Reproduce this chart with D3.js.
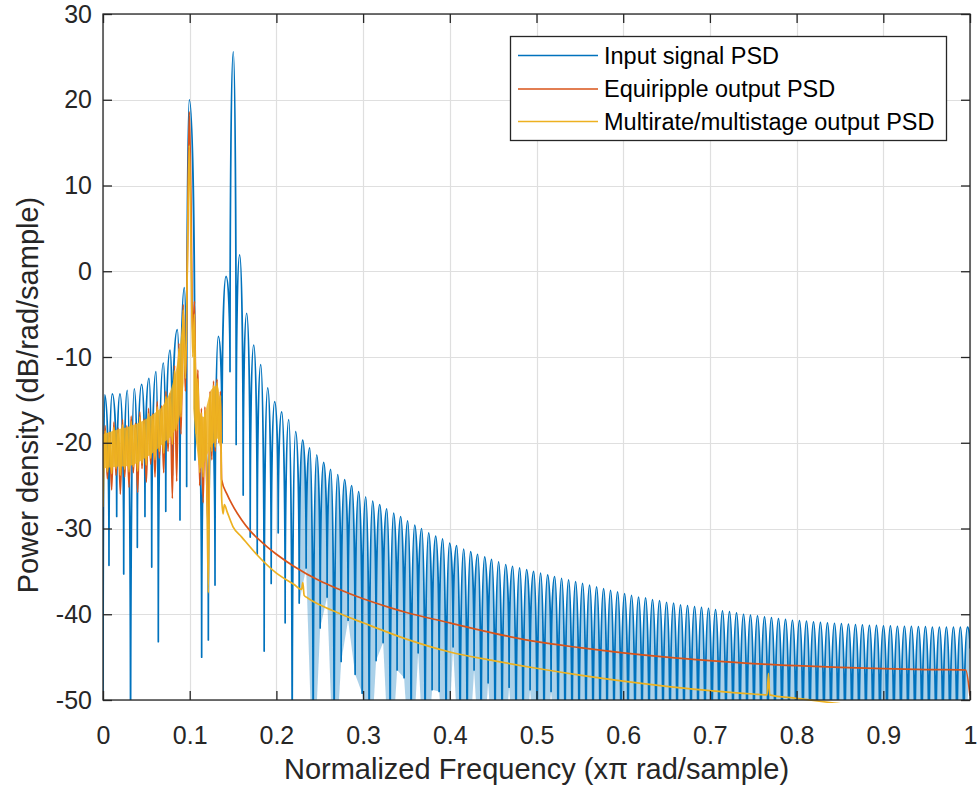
<!DOCTYPE html>
<html><head><meta charset="utf-8">
<script src="https://cdn.jsdelivr.net/npm/d3@7"></script>
<style>
html,body{margin:0;padding:0;background:#fff;}
svg{display:block;}
text{font-family:"Liberation Sans",Arial,Helvetica,sans-serif;}
</style></head>
<body>
<svg id="chart" width="978" height="790"></svg>
<script>
// ---------------- data ----------------
const xTicks = [0,0.1,0.2,0.3,0.4,0.5,0.6,0.7,0.8,0.9,1];
const xTickLabels = ["0","0.1","0.2","0.3","0.4","0.5","0.6","0.7","0.8","0.9","1"];
const yTicks = [-50,-40,-30,-20,-10,0,10,20,30];
const yTickLabels = ["-50","-40","-30","-20","-10","0","10","20","30"];
const seriesNames = ["Input signal PSD","Equiripple output PSD","Multirate/multistage output PSD"];
const seriesColors = ["#0072BD","#D95319","#EDB120"];

// Input PSD, low-frequency part [freq, dB]
const inputLow = [
 [0,-60],[0.002,-14.4],[0.0069,-34.3],[0.0107,-14.3],[0.0158,-28.6],[0.0196,-14.3],[0.0239,-35.3],
 [0.028,-13.9],[0.0318,-60],[0.0361,-13.7],[0.0396,-32.2],[0.0446,-13.2],[0.0484,-28.6],[0.053,-12.5],
 [0.0562,-34.5],[0.0611,-11.7],[0.0638,-43.2],[0.0696,-10.7],[0.0724,-28.0],[0.0773,-9.2],[0.080,-23.8],
 [0.0857,-6.8],[0.0888,-29.0],[0.0938,-1.9],[0.0965,-25.1],[0.0995,20.0],[0.1061,-22],[0.1096,-16],
 [0.1138,-45],[0.1176,-19],[0.1215,-43],[0.1254,-17],[0.1292,-36.6],[0.133,-7.6],[0.1373,-20],
 [0.1419,-0.6],[0.1465,-11.7],[0.1503,25.6],[0.1536,-20.2],[0.1576,1.9],[0.1617,-26.1],[0.1657,-4.9],
 [0.1698,-31],[0.1738,-8.6],[0.1779,-33],[0.1819,-10.9],[0.1859,-44.3],[0.19,-13.6],[0.194,-36.4],
 [0.198,-15.2],[0.2021,-30.5],[0.2061,-16.4],[0.2101,-41],[0.2142,-17.3],[0.2182,-60],[0.2222,-18.7],
 [0.2263,-38.7]
];
// Input PSD sidelobe peaks above 0.23
const inputPeakFreq = [0.2303,0.2384,0.2465,0.2545,0.2626,0.2707,0.2787,0.2868,0.2949,0.3030,
 0.3110,0.3191,0.3272,0.3352,0.3433,0.3514,0.3595,0.3675,0.3756,0.3837,0.3917,0.3998,0.4079,0.4160,
 0.4240,0.4321,0.4402,0.4482,0.4563,0.4644,0.4724,0.4805,0.4886,0.4967,0.5047,0.5128,0.5209,0.5289,
 0.5370,0.5451,0.5531,0.5612,0.5693,0.5774,0.5854,0.5935,0.6016,0.6096,0.6177,0.6258,0.6338,0.6419,
 0.6500,0.6581,0.6661,0.6742,0.6823,0.6903,0.6984,0.7065,0.7145,0.7226,0.7307,0.7388,0.7468,0.7549,
 0.7630,0.7710,0.7791,0.7872,0.7952,0.8033,0.8114,0.8195,0.8275,0.8356,0.8437,0.8517,0.8598,0.8679,
 0.8759,0.8840,0.8921,0.9002,0.9082,0.9163,0.9244,0.9324,0.9405,0.9486,0.9566,0.9647,0.9728,0.9809,
 0.9889,0.9970];
const inputPeakDb = [-19.7,-20.6,-21.4,-22.3,-23.1,-23.7,-24.3,-25.0,-25.7,-26.3,
 -26.8,-27.2,-27.7,-28.2,-28.6,-29.1,-29.6,-30.0,-30.5,-30.9,-31.2,-31.7,-32.0,-32.4,
 -32.7,-33.0,-33.3,-33.6,-33.9,-34.2,-34.4,-34.6,-34.8,-35.0,-35.2,-35.4,-35.6,-35.8,
 -36.0,-36.2,-36.4,-36.6,-36.8,-37.0,-37.2,-37.4,-37.6,-37.8,-38.0,-38.1,-38.3,-38.4,
 -38.6,-38.7,-38.9,-39.0,-39.1,-39.2,-39.3,-39.45,-39.6,-39.7,-39.85,-40.0,-40.1,-40.2,
 -40.3,-40.4,-40.5,-40.6,-40.7,-40.75,-40.8,-40.9,-40.95,-41.0,-41.05,-41.1,-41.15,-41.2,
 -41.25,-41.3,-41.3,-41.35,-41.35,-41.4,-41.4,-41.4,-41.45,-41.45,-41.5,-41.5,-41.5,-41.5,
 -41.5,-41.5];
// Input PSD nulls above 0.23
const inputNullFreq = [0.2343,0.2424,0.2505,0.2585,0.2666,0.2747,0.2827,0.2908,0.2989,0.3070,
 0.3150,0.3231,0.3312,0.3392,0.3473,0.3554,0.3635,0.3715,0.3796,0.3877,0.3957,0.4038,0.4119,0.4200,
 0.4280,0.4361,0.4442,0.4522,0.4603,0.4684,0.4764,0.4845,0.4926,0.5007,0.5087,0.5168,0.5249,0.5329,
 0.5410,0.5491,0.5571,0.5652,0.5733,0.5814,0.5894,0.5975,0.6056,0.6136,0.6217,0.6298,0.6378,0.6459,
 0.6540,0.6621,0.6701,0.6782,0.6863,0.6943,0.7024,0.7105,0.7185,0.7266,0.7347,0.7428,0.7508,0.7589,
 0.7670,0.7750,0.7831,0.7912,0.7992,0.8073,0.8154,0.8235,0.8315,0.8396,0.8477,0.8557,0.8638,0.8719,
 0.8799,0.8880,0.8961,0.9042,0.9122,0.9203,0.9284,0.9364,0.9445,0.9526,0.9606,0.9687,0.9768,0.9849,
 0.9929,1.0];
const inputNullDb = [-34.6,-60,-41.6,-38.0,-60,-45.5,-40.7,-47,-49.2,-60,
 -45.4,-43.3,-60,-46.5,-47.4,-60,-44.5,-60,-48.8,-49,-60,-43.8,-60,-60,
 -46.5,-60,-48,-60,-60,-48.5,-60,-60,-48.8,-60,-60,-49.0,-60,-60,
 -60,-60,-60,-60,-60,-60,-60,-60,-60,-60,-60,-60,-60,-60,
 -60,-60,-60,-60,-60,-60,-60,-60,-60,-60,-60,-60,-60,-60,
 -60,-60,-60,-60,-60,-60,-60,-60,-60,-60,-60,-60,-60,-60,
 -60,-60,-60,-60,-60,-60,-60,-60,-60,-60,-60,-60,-60,-60,
 -60,-44];

// Equiripple output PSD [freq, dB]
const equiripple = [
 [0,-25.0],[0.0025,-18.0],[0.005,-24.2],[0.0075,-18.8],[0.01,-25.5],[0.0125,-17.6],[0.015,-23.8],
 [0.0175,-18.3],[0.02,-26.0],[0.0225,-17.3],[0.025,-24.0],[0.0275,-18.0],[0.03,-25.2],[0.0325,-16.9],
 [0.035,-23.5],[0.0375,-17.7],[0.04,-25.8],[0.0425,-16.4],[0.045,-23.0],[0.0475,-17.2],[0.05,-24.6],
 [0.0525,-16.0],[0.055,-22.5],[0.0575,-16.6],[0.06,-24.0],[0.0625,-15.2],[0.065,-21.8],[0.0675,-15.7],
 [0.07,-23.5],[0.0725,-14.0],[0.075,-21.0],[0.0775,-14.2],[0.08,-26.5],[0.0825,-11.0],[0.085,-24.5],
 [0.0875,-8.4],[0.09,-19.0],[0.0925,-3.9],[0.095,-14.0],[0.0975,3.0],[0.0995,18.6],
 [0.1015,8.0],[0.1035,-8.0],[0.1055,-3.5],[0.1075,-18.0],[0.1095,-11.5],[0.1115,-25.0],[0.1135,-16.0],
 [0.1155,-27.0],[0.1175,-15.8],[0.1195,-24.0],[0.1215,-30.2],[0.1235,-14.0],[0.1255,-22.0],[0.1275,-12.8],
 [0.1295,-21.0],[0.1315,-12.6],[0.1335,-20.0],[0.1355,-14.0],[0.1368,-24.3],
 [0.143,-26.0],[0.150,-27.4],[0.160,-29.0],[0.170,-30.3],[0.180,-31.3],[0.190,-32.2],[0.200,-33.0],
 [0.220,-34.4],[0.250,-36.1],[0.270,-37.0],[0.300,-38.2],[0.330,-39.2],[0.350,-39.8],
 [0.400,-41.0],[0.450,-42.2],[0.500,-43.2],[0.550,-43.9],[0.600,-44.5],[0.650,-45.0],
 [0.700,-45.4],[0.750,-45.75],[0.800,-46.0],[0.850,-46.2],[0.900,-46.35],[0.950,-46.45],[0.995,-46.5],[1.0,-49.5]
];

// Multirate/multistage output PSD [freq, dB]
const multistage = [
 [0,-27.5],[0.0025,-18.6],[0.005,-23.4],[0.0075,-19.4],[0.01,-23.6],[0.0125,-18.2],[0.015,-23.0],
 [0.0175,-18.9],[0.02,-23.8],[0.0225,-17.9],[0.025,-23.1],[0.0275,-18.6],[0.03,-23.4],[0.0325,-17.5],
 [0.035,-22.8],[0.0375,-18.3],[0.04,-23.3],[0.0425,-17.0],[0.045,-22.4],[0.0475,-17.8],[0.05,-22.6],
 [0.0525,-16.6],[0.055,-21.8],[0.0575,-17.2],[0.06,-22.0],[0.0625,-15.8],[0.065,-21.0],[0.0675,-16.3],
 [0.07,-21.2],[0.0725,-14.6],[0.075,-20.0],[0.0775,-14.9],[0.08,-20.2],[0.0825,-11.6],[0.085,-18.6],
 [0.0875,-9.0],[0.09,-17.0],[0.0925,-4.5],[0.095,-12.5],[0.0975,2.0],[0.0995,14.7],
 [0.1015,3.0],[0.1035,-10.0],[0.1055,-5.0],[0.1075,-19.0],[0.1095,-12.5],[0.1115,-23.5],[0.1135,-16.5],
 [0.1155,-24.0],[0.1175,-16.2],[0.1195,-22.5],[0.1215,-37.5],[0.1235,-14.5],[0.1255,-21.0],[0.1275,-13.3],
 [0.1295,-20.5],[0.1315,-13.0],[0.1335,-19.8],[0.1355,-14.5],[0.1368,-26.3],[0.1385,-28.3],[0.140,-27.2],
 [0.143,-28.0],[0.150,-29.8],[0.160,-31.0],[0.177,-33.0],[0.200,-35.2],[0.220,-36.5],[0.229,-37.1],
 [0.2305,-36.3],[0.232,-37.8],[0.236,-38.1],[0.250,-38.9],[0.270,-39.8],[0.300,-41.0],[0.350,-42.9],
 [0.400,-44.4],[0.450,-45.4],[0.500,-46.3],[0.550,-47.1],[0.600,-47.8],[0.650,-48.4],[0.700,-48.9],
 [0.750,-49.3],[0.766,-49.4],[0.7675,-46.9],[0.769,-49.4],[0.800,-49.8],[0.843,-50.35],[0.900,-51.0],[1.0,-51.5]
];
// Extent of the dense multirate ripple band at low frequency (too fine to resolve as single strokes)
const multistageBandFreq = [0,0.015,0.03,0.045,0.06,0.07,0.08,0.086,0.09,0.093,
  0.104,0.108,0.112,0.116,0.12,0.124,0.128,0.132,0.135];
const multistageBandHi = [-19.0,-18.5,-18.1,-17.5,-16.5,-15.5,-13.2,-10.5,-7.5,-4.0,
  -6.0,-12.0,-16.5,-17.0,-15.5,-14.0,-13.5,-13.3,-15.0];
const multistageBandLo = [-23.0,-22.8,-22.7,-22.0,-21.0,-20.0,-19.0,-17.8,-16.0,-13.0,
  -16.0,-20.5,-23.0,-22.5,-21.5,-20.5,-20.0,-19.5,-20.5];

// ---------------- drawing ----------------
const svg = d3.select("#chart");
const L = 103, T = 14, PW = 867, PH = 686;
const x = d3.scaleLinear().domain([0,1]).range([L, L+PW]);
const y = d3.scaleLinear().domain([-50,30]).range([T+PH, T]);
const axisColor = "#262626";

svg.append("rect").attr("width",978).attr("height",790).attr("fill","#fff");

// grid
const grid = svg.append("g");
grid.selectAll(".gx").data(xTicks).enter().append("line")
 .attr("x1",d=>Math.round(x(d))+0.5).attr("x2",d=>Math.round(x(d))+0.5)
 .attr("y1",T).attr("y2",T+PH).attr("stroke","#dfdfdf").attr("stroke-width",1.2);
grid.selectAll(".gy").data(yTicks).enter().append("line")
 .attr("y1",d=>Math.round(y(d))+0.5).attr("y2",d=>Math.round(y(d))+0.5)
 .attr("x1",L).attr("x2",L+PW).attr("stroke","#dfdfdf").attr("stroke-width",1.2);

// clip paths
const defs = svg.append("defs");
defs.append("clipPath").attr("id","clip").append("rect")
 .attr("x",L).attr("y",T).attr("width",PW).attr("height",PH);
defs.append("clipPath").attr("id","clip2").append("rect")
 .attr("x",L).attr("y",T).attr("width",PW).attr("height",PH+3);

// Lobe-shaped curve: flat tangent at local maxima, vertical tangent into nulls
function LobeCurve(context){ this._context = context; }
LobeCurve.prototype = {
  areaStart(){ this._line = 0; },
  areaEnd(){ this._line = NaN; },
  lineStart(){ this._point = 0; },
  lineEnd(){
    if (this._line || (this._line !== 0 && this._point === 1)) this._context.closePath();
    this._line = 1 - this._line;
  },
  point(px, py){
    px = +px; py = +py;
    if (!this._point) { this._point = 1; this._line ? this._context.lineTo(px, py) : this._context.moveTo(px, py); }
    else {
      this._point = 2;
      const x0 = this._x0, y0 = this._y0, a = 0.6, c = 0.55;
      if (py > y0) {
        this._context.bezierCurveTo(x0 + a*(px-x0), y0, px, py - c*(py-y0), px, py);
      } else {
        this._context.bezierCurveTo(x0, y0 + c*(py-y0), px - a*(px-x0), py, px, py);
      }
    }
    this._x0 = px; this._y0 = py;
  }
};
const lobeCurve = ctx => new LobeCurve(ctx);

const lobeLine = d3.line().x(d=>x(d[0])).y(d=>y(d[1])).curve(lobeCurve);
const smoothLine = d3.line().x(d=>x(d[0])).y(d=>y(d[1])).curve(d3.curveMonotoneX);

// assemble input series
const inputSeries = inputLow.slice();
const hi = [];
inputPeakFreq.forEach((f,i)=>hi.push([f,inputPeakDb[i]]));
inputNullFreq.forEach((f,i)=>hi.push([f,inputNullDb[i]]));
hi.sort((a,b)=>a[0]-b[0]);
hi.forEach(p=>inputSeries.push(p));

// individual sidelobes (null - peak - null) in the densely sampled high band
const lobes = [];
for (let i = 1; i < inputSeries.length-1; i++) {
  const p = inputSeries[i];
  if (p[0] >= 0.23 && p[1] > inputSeries[i-1][1] && p[1] > inputSeries[i+1][1])
    lobes.push([inputSeries[i-1], p, inputSeries[i+1]]);
}

const lw = 1.7;
const dataG = svg.append("g").attr("clip-path","url(#clip)");
// light tint inside each sidelobe (anti-aliased look of the densely sampled original)
dataG.append("g").selectAll("path").data(lobes).enter().append("path")
 .attr("d",lobeLine).attr("fill",seriesColors[0]).attr("fill-opacity",0.33).attr("stroke","none");
dataG.append("path").datum(inputSeries).attr("d",lobeLine)
 .attr("fill","none").attr("stroke",seriesColors[0]).attr("stroke-width",lw).attr("stroke-linejoin","round");
dataG.append("path").datum(equiripple).attr("d",smoothLine)
 .attr("fill","none").attr("stroke",seriesColors[1]).attr("stroke-width",lw).attr("stroke-linejoin","round");

const yg = svg.append("g").attr("clip-path","url(#clip2)");
const bandData = multistageBandFreq.map((f,i)=>[f,multistageBandHi[i],multistageBandLo[i]]);
const bandArea = d3.area().x(d=>x(d[0])).y0(d=>y(d[2])).y1(d=>y(d[1])).curve(d3.curveMonotoneX);
yg.append("path").datum(bandData.slice(0,10)).attr("d",bandArea).attr("fill",seriesColors[2]).attr("opacity",0.85);
yg.append("path").datum(bandData.slice(10)).attr("d",bandArea).attr("fill",seriesColors[2]).attr("opacity",0.85);
yg.append("path").datum(multistage).attr("d",smoothLine)
 .attr("fill","none").attr("stroke",seriesColors[2]).attr("stroke-width",lw).attr("stroke-linejoin","round");

// axes
const fs = 25;
const gx = svg.append("g").attr("transform",`translate(0,${T+PH})`)
 .call(d3.axisBottom(x).tickValues(xTicks).tickSize(-9).tickSizeOuter(0).tickPadding(26)
   .tickFormat((d,i)=>xTickLabels[i]));
const gy = svg.append("g").attr("transform",`translate(${L},0)`)
 .call(d3.axisLeft(y).tickValues(yTicks).tickSize(-9).tickSizeOuter(0).tickPadding(11)
   .tickFormat((d,i)=>yTickLabels[i]));
const gt = svg.append("g").attr("transform",`translate(0,${T})`)
 .call(d3.axisTop(x).tickValues(xTicks).tickSize(-9).tickSizeOuter(0).tickFormat(""));
const gr = svg.append("g").attr("transform",`translate(${L+PW},0)`)
 .call(d3.axisRight(y).tickValues(yTicks).tickSize(-9).tickSizeOuter(0).tickFormat(""));
[gx,gy,gt,gr].forEach(g=>{
  g.select(".domain").remove();
  g.selectAll(".tick line").attr("stroke",axisColor).attr("stroke-width",1.3);
  g.selectAll(".tick text").attr("fill",axisColor).style("font-size",fs+"px")
   .style("font-family",'"Liberation Sans",Arial,Helvetica,sans-serif');
});
gx.selectAll(".tick text").attr("dy","0.71em");

// box
svg.append("rect").attr("x",L).attr("y",T).attr("width",PW).attr("height",PH)
 .attr("fill","none").attr("stroke",axisColor).attr("stroke-width",1.3);

// axis labels
svg.append("text").attr("x",L+PW/2).attr("y",779).attr("text-anchor","middle")
 .attr("fill",axisColor).style("font-size","29px").text("Normalized Frequency (x\u03C0 rad/sample)");
svg.append("text").attr("transform",`translate(38,395) rotate(-90)`).attr("text-anchor","middle")
 .attr("fill",axisColor).style("font-size","29px").text("Power density (dB/rad/sample)");

// legend
const lg = svg.append("g");
lg.append("rect").attr("x",510.5).attr("y",36.5).attr("width",436).attr("height",104)
 .attr("fill","#fff").attr("stroke",axisColor).attr("stroke-width",1.3);
const rowY = [55.5,89,121.5];
seriesNames.forEach((n,i)=>{
  lg.append("line").attr("x1",518).attr("x2",598).attr("y1",rowY[i]).attr("y2",rowY[i])
   .attr("stroke",seriesColors[i]).attr("stroke-width",1.5);
  lg.append("text").attr("x",604).attr("y",rowY[i]).attr("dy","0.35em")
   .attr("fill","#000").style("font-size","23.5px").text(n);
});
</script>
</body></html>
